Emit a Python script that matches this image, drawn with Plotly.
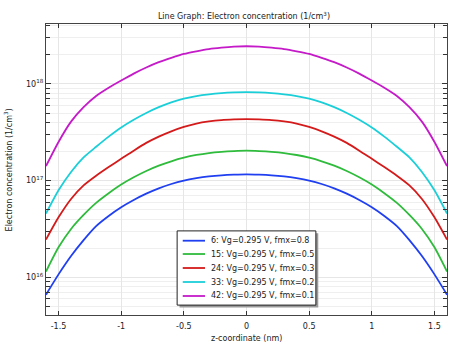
import plotly.graph_objects as go

# z-coordinate (nm)
z = [-1.6, -1.5, -1.4, -1.3, -1.2, -1.1, -1.0, -0.9, -0.8, -0.7, -0.6, -0.5, -0.4, -0.3, -0.2, -0.1, 0.0,
     0.1, 0.2, 0.3, 0.4, 0.5, 0.6, 0.7, 0.8, 0.9, 1.0, 1.1, 1.2, 1.3, 1.4, 1.5, 1.6]

# Electron concentration (1/cm^3) for each solution
n_fmx08 = [6.607e15, 1.072e16, 1.660e16, 2.427e16, 3.388e16, 4.315e16, 5.309e16, 6.310e16, 7.328e16,
           8.318e16, 9.226e16, 1.000e17, 1.059e17, 1.104e17, 1.135e17, 1.153e17, 1.161e17,
           1.153e17, 1.135e17, 1.104e17, 1.059e17, 1.000e17, 9.226e16, 8.318e16, 7.328e16,
           6.310e16, 5.309e16, 4.315e16, 3.388e16, 2.427e16, 1.660e16, 1.072e16, 6.607e15]
n_fmx05 = [1.148e16, 2.042e16, 3.162e16, 4.416e16, 5.888e16, 7.413e16, 9.120e16, 1.084e17, 1.259e17,
           1.429e17, 1.585e17, 1.726e17, 1.841e17, 1.928e17, 1.986e17, 2.023e17, 2.042e17,
           2.023e17, 1.986e17, 1.928e17, 1.841e17, 1.726e17, 1.585e17, 1.429e17, 1.259e17,
           1.084e17, 9.120e16, 7.413e16, 5.888e16, 4.416e16, 3.162e16, 2.042e16, 1.148e16]
n_fmx03 = [2.455e16, 4.169e16, 6.457e16, 8.913e16, 1.122e17, 1.380e17, 1.679e17, 2.042e17, 2.455e17,
           2.851e17, 3.236e17, 3.589e17, 3.890e17, 4.093e17, 4.227e17, 4.295e17, 4.325e17,
           4.295e17, 4.227e17, 4.093e17, 3.890e17, 3.589e17, 3.236e17, 2.851e17, 2.455e17,
           2.042e17, 1.679e17, 1.380e17, 1.122e17, 8.913e16, 6.457e16, 4.169e16, 2.455e16]
n_fmx02 = [4.571e16, 7.943e16, 1.230e17, 1.738e17, 2.239e17, 2.851e17, 3.548e17, 4.266e17, 5.012e17,
           5.754e17, 6.457e17, 7.047e17, 7.499e17, 7.816e17, 8.035e17, 8.166e17, 8.222e17,
           8.166e17, 8.035e17, 7.816e17, 7.499e17, 7.047e17, 6.457e17, 5.754e17, 5.012e17,
           4.266e17, 3.548e17, 2.851e17, 2.239e17, 1.738e17, 1.230e17, 7.943e16, 4.571e16]
n_fmx01 = [1.413e17, 2.512e17, 4.074e17, 5.754e17, 7.499e17, 9.120e17, 1.084e18, 1.279e18, 1.479e18,
           1.679e18, 1.862e18, 2.042e18, 2.173e18, 2.291e18, 2.371e18, 2.432e18, 2.455e18,
           2.432e18, 2.371e18, 2.291e18, 2.173e18, 2.042e18, 1.862e18, 1.679e18, 1.479e18,
           1.279e18, 1.084e18, 9.120e17, 7.499e17, 5.754e17, 4.074e17, 2.512e17, 1.413e17]

series_names = [
    "6: Vg=0.295 V, fmx=0.8",
    "15: Vg=0.295 V, fmx=0.5",
    "24: Vg=0.295 V, fmx=0.3",
    "33: Vg=0.295 V, fmx=0.2",
    "42: Vg=0.295 V, fmx=0.1",
]
series_values = [n_fmx08, n_fmx05, n_fmx03, n_fmx02, n_fmx01]
series_colors = ["#1f3ff0", "#2fbb3c", "#d41a1a", "#1bcfd8", "#c41ac8"]

x_ticks = [-1.5, -1, -0.5, 0, 0.5, 1, 1.5]
x_ticklabels = ["-1.5", "-1", "-0.5", "0", "0.5", "1", "1.5"]
y_major = [1e16, 1e17, 1e18]
y_ticklabels = ["10<sup>16</sup>", "10<sup>17</sup>", "10<sup>18</sup>"]
y_minor = [m * 10 ** e for e in (15, 16, 17, 18) for m in range(2, 10)]

FONT = "DejaVu Sans"
TXT = "#222222"

fig = go.Figure()
for name, vals, col in zip(series_names, series_values, series_colors):
    fig.add_trace(go.Scatter(
        x=z, y=vals, mode="lines", name=name, showlegend=False,
        line=dict(color=col, width=1.8, shape="spline", smoothing=0.6),
    ))

# Boxed legend in the lower middle of the plot area (paper coordinates)
box_x0, box_x1, box_y0, box_y1 = 0.327, 0.673, 0.034, 0.289
row_y = [0.2553, 0.2096, 0.1615, 0.1134, 0.0653]
shapes = [
    # drop shadow
    dict(type="rect", xref="paper", yref="paper", x0=box_x0 + 0.006, x1=box_x1 + 0.006,
         y0=box_y0 - 0.008, y1=box_y1 - 0.008, fillcolor="#9a9a9a", line=dict(width=0), layer="above"),
    dict(type="rect", xref="paper", yref="paper", x0=box_x0, x1=box_x1, y0=box_y0, y1=box_y1,
         fillcolor="white", line=dict(color="#222", width=1), layer="above"),
]
annotations = []
for name, col, ry in zip(series_names, series_colors, row_y):
    shapes.append(dict(type="line", xref="paper", yref="paper", x0=0.341, x1=0.3965, y0=ry, y1=ry,
                       line=dict(color=col, width=1.8), layer="above"))
    annotations.append(dict(text=name, xref="paper", yref="paper", x=0.4065, y=ry,
                            xanchor="left", yanchor="middle", showarrow=False,
                            font=dict(size=8, family=FONT, color=TXT)))

# axis titles
annotations.append(dict(text="z-coordinate (nm)", xref="paper", yref="paper", x=0.5, y=-0.0595,
                        xanchor="center", yanchor="top", showarrow=False,
                        font=dict(size=8, family=FONT, color=TXT)))
annotations.append(dict(text="Electron concentration (1/cm<sup>3</sup>)", xref="paper", yref="paper",
                        x=-0.095, y=0.5, xanchor="center", yanchor="middle", textangle=-90,
                        showarrow=False, font=dict(size=8, family=FONT, color=TXT)))

fig.update_layout(
    width=456, height=342,
    margin=dict(l=46, r=9, t=24, b=27),
    paper_bgcolor="white", plot_bgcolor="white",
    font=dict(family=FONT, size=8, color=TXT),
    title=dict(text="Line Graph: Electron concentration (1/cm<sup>3</sup>)",
               x=0.535, xanchor="center", y=0.953, yanchor="middle",
               font=dict(size=8, family=FONT, color=TXT)),
    showlegend=False,
    shapes=shapes,
    annotations=annotations,
)

fig.update_xaxes(
    range=[-1.6, 1.6], automargin=False,
    tickvals=x_ticks, ticktext=x_ticklabels,
    ticks="inside", ticklen=4, tickcolor="#333", ticklabelstandoff=3,
    showline=True, linecolor="#444", linewidth=1.2, mirror="ticks",
    showgrid=True, gridcolor="#e6e6e6", gridwidth=1,
    zeroline=False,
    tickfont=dict(size=8, family=FONT),
)

fig.update_yaxes(
    type="log", automargin=False,
    range=[15.61, 18.62],
    tickvals=y_major, ticktext=y_ticklabels,
    ticks="inside", ticklen=5, tickcolor="#333",
    showline=True, linecolor="#444", linewidth=1.2, mirror="allticks",
    showgrid=True, gridcolor="#e6e6e6", gridwidth=1,
    minor=dict(tickvals=y_minor, ticks="inside", ticklen=4, tickcolor="#333",
               showgrid=True, gridcolor="#efefef", gridwidth=1),
    zeroline=False,
    tickfont=dict(size=8, family=FONT),
)

fig.write_html("out.html")
